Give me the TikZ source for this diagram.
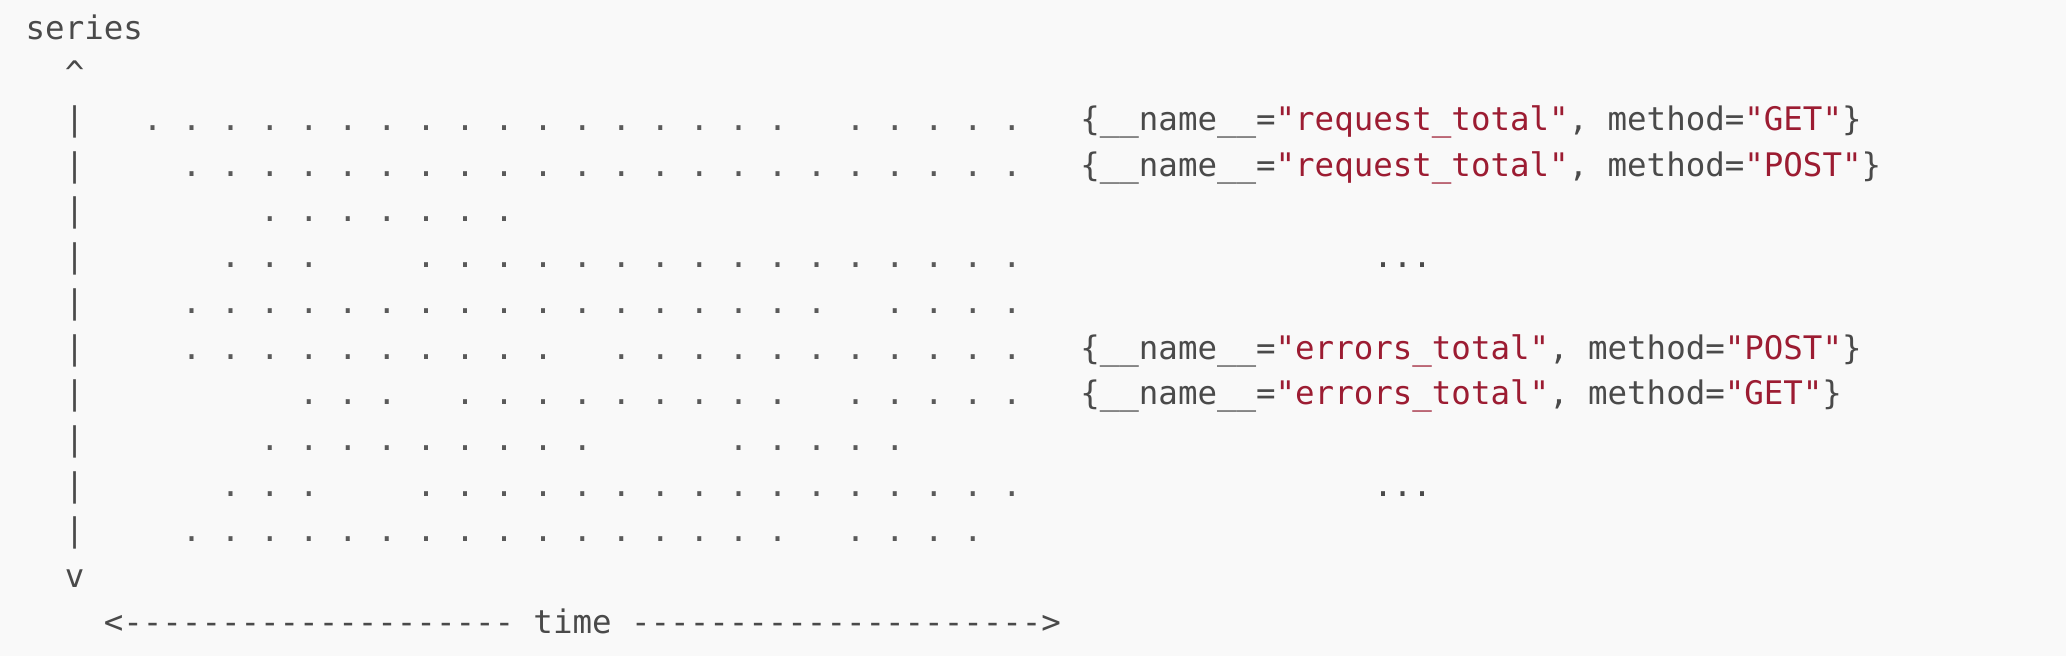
\documentclass[tikz,border=0pt]{standalone}
\usepackage{fontspec}
\setmonofont{DejaVu Sans Mono}
\definecolor{bgc}{HTML}{F9F9F9}
\definecolor{ink}{HTML}{4A4A4A}
\definecolor{dotc}{HTML}{5A5A5A}
\definecolor{strred}{HTML}{9C1C32}
\newcommand\cw{19.53}
\newcommand\xo{25.7}
\newcommand\yb{130.5}
\newcommand\rh{45.7}
\newcommand\putat[5]{\node[#4] (#1) at ({\xo+\cw*(#2)},{\yb+\rh*(#3)}) {#5};}
\newcommand\dotrun[3]{%
  \pgfmathtruncatemacro\dotnext{#2+2}%
  \foreach \c in {#2,\dotnext,...,#3}{\node[pt] (d-#1-\c) at ({\xo+\cw*(\c+0.5)},{\yb+\rh*(#1)}) {.};}}
\begin{document}
\begin{tikzpicture}[x=0.01cm,y=-0.01cm,
  every node/.style={inner sep=0pt,outer sep=0pt,font=\ttfamily\fontsize{9.23}{11}\selectfont,text=ink},
  txt/.style={anchor=base west},
  str/.style={anchor=base west,text=strred},
  pt/.style={anchor=base,text=dotc}]
\fill[bgc] (0,0) rectangle (2066,656);
\useasboundingbox (0,0) rectangle (2066,656);
% axis (ASCII)
\putat{series}{0}{-2}{txt}{series}
\putat{up}{2}{-1}{txt}{\textasciicircum}
\foreach \r in {0,...,9}{\putat{bar-\r}{2}{\r}{txt}{\textbar}}
\putat{down}{2}{10}{txt}{v}
\putat{tl}{4}{11}{txt}{<--------------------}
\putat{time}{26}{11}{txt}{time}
\putat{tr}{31}{11}{txt}{--------------------->}
% dot rows
\dotrun{0}{6}{38}\dotrun{0}{42}{50}
\dotrun{1}{8}{50}
\dotrun{2}{12}{24}
\dotrun{3}{10}{14}\dotrun{3}{20}{50}
\dotrun{4}{8}{40}\dotrun{4}{44}{50}
\dotrun{5}{8}{26}\dotrun{5}{30}{50}
\dotrun{6}{14}{18}\dotrun{6}{22}{38}\dotrun{6}{42}{50}
\dotrun{7}{12}{28}\dotrun{7}{36}{44}
\dotrun{8}{10}{14}\dotrun{8}{20}{50}
\dotrun{9}{8}{38}\dotrun{9}{42}{48}
% labels
\putat{l1a}{54}{0}{txt}{\{\string_\string_name\string_\string_=}
\putat{l1b}{64}{0}{str}{"request\string_total"}
\putat{l1c}{79}{0}{txt}{,}
\putat{l1d}{81}{0}{txt}{method=}
\putat{l1e}{88}{0}{str}{"GET"}
\putat{l1f}{93}{0}{txt}{\}}
\putat{l2a}{54}{1}{txt}{\{\string_\string_name\string_\string_=}
\putat{l2b}{64}{1}{str}{"request\string_total"}
\putat{l2c}{79}{1}{txt}{,}
\putat{l2d}{81}{1}{txt}{method=}
\putat{l2e}{88}{1}{str}{"POST"}
\putat{l2f}{94}{1}{txt}{\}}
\putat{e1}{69}{3}{txt}{...}
\putat{l3a}{54}{5}{txt}{\{\string_\string_name\string_\string_=}
\putat{l3b}{64}{5}{str}{"errors\string_total"}
\putat{l3c}{78}{5}{txt}{,}
\putat{l3d}{80}{5}{txt}{method=}
\putat{l3e}{87}{5}{str}{"POST"}
\putat{l3f}{93}{5}{txt}{\}}
\putat{l4a}{54}{6}{txt}{\{\string_\string_name\string_\string_=}
\putat{l4b}{64}{6}{str}{"errors\string_total"}
\putat{l4c}{78}{6}{txt}{,}
\putat{l4d}{80}{6}{txt}{method=}
\putat{l4e}{87}{6}{str}{"GET"}
\putat{l4f}{92}{6}{txt}{\}}
\putat{e2}{69}{8}{txt}{...}
\end{tikzpicture}
\end{document}
